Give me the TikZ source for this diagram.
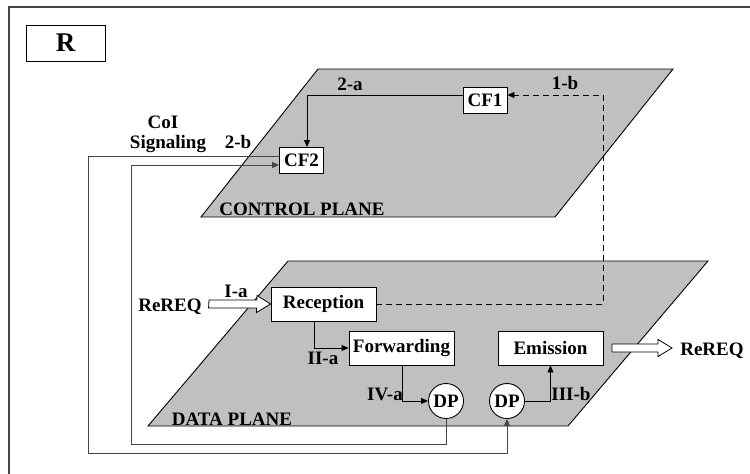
\documentclass[tikz,border=0pt]{standalone}
\usepackage{fontspec}
\setmainfont{Liberation Serif}
\usetikzlibrary{arrows.meta}
\definecolor{planegray}{RGB}{192,192,192}
\definecolor{edgegray}{RGB}{70,70,70}
\begin{document}
\begin{tikzpicture}[x=1pt,y=-1pt,
  every node/.style={font=\fontsize{19}{21}\selectfont\bfseries},
  box/.style={draw,fill=white,line width=0.9pt,inner sep=0pt,minimum width=105pt,minimum height=34pt},
  smallbox/.style={draw,fill=white,line width=0.9pt,inner sep=0pt,minimum width=44pt,minimum height=26pt},
  dpnode/.style={draw,fill=white,circle,line width=0.9pt,inner sep=0pt,minimum size=35pt},
  plane/.style={draw,fill=planegray,line width=0.9pt},
  arr/.style={line width=0.8pt,-{Triangle[length=7pt,width=6pt]}},
  loopline/.style={line width=1pt,draw=edgegray},
  lbl/.style={anchor=base,inner sep=0pt},
  blockarrow/.style={draw,fill=white,line width=0.8pt,line join=miter}]
\useasboundingbox (0,0) rectangle (750,474);
% frame (cropped: only top and left edges visible)
\draw[line width=1.3pt,draw=edgegray] (9,474) -- (9,7) -- (750,7);
\node[draw,line width=0.9pt,minimum width=79pt,minimum height=36pt,inner sep=0pt,font=\fontsize{27}{29}\selectfont\bfseries] (R) at (65.5,43) {R};
% planes
\draw[plane] (318,69) -- (673,69) -- (555,217) -- (201,217) -- cycle;
\draw[plane] (288,261) -- (708,261) -- (568,426) -- (148,426) -- cycle;
\node[lbl] (cpl) at (302,215) {CONTROL PLANE};
\node[lbl] (dpl) at (232,425) {DATA PLANE};
% nodes
\node[smallbox] (CF1) at (485,100) {CF1};
\node[smallbox] (CF2) at (301.5,160.5) {CF2};
\node[box] (Rec) at (323.5,304) {Reception};
\node[box] (Fwd) at (401.5,348) {Forwarding};
\node[box] (Emi) at (550.5,348) {Emission};
\node[dpnode] (DP1) at (446,401) {DP};
\node[dpnode] (DP2) at (507,401) {DP};
% coordinates
\coordinate (c1b) at (603,95);
\coordinate (o1) at (88,156);
\coordinate (o2) at (88,453);
\coordinate (i1) at (131,444);
% connectors
\draw[arr] ([yshift=5pt]CF1.west) -| ([xshift=5.5pt]CF2.north);
\draw[arr,dash pattern=on 6pt off 4pt] (Rec.east) -| (c1b) -- ([yshift=5pt]CF1.east);
\draw[loopline,-{Triangle[length=7pt,width=6pt]}] ([yshift=4.5pt]CF2.west) -- (o1) -- (o2) -| (DP2.south);
\draw[loopline,-{Triangle[length=7pt,width=6pt]}] (DP1.south) |- (i1) |- ([yshift=-4.5pt]CF2.west);
\draw[arr] ([xshift=-9.5pt]Rec.south) |- (Fwd.west);
\draw[arr] ([xshift=0.5pt]Fwd.south) |- (DP1.west);
\draw[arr] (DP2.east) -| (Emi.south);
% block arrows
\coordinate (inA) at (209,304);
\draw[blockarrow] (inA) ++(0,-4) -- ++(48,0) -- ++(0,-4.5) -- (Rec.west) -- ++(-14,8.5) -- ++(0,-4.5) -- ++(-48,0) -- cycle;
\coordinate (outA) at (612,348);
\coordinate (outT) at (672,348);
\draw[blockarrow] (outA) ++(0,-4) -- ++(46,0) -- ++(0,-4.5) -- (outT) -- ++(-14,8.5) -- ++(0,-4.5) -- ++(-46,0) -- cycle;
% labels
\node[lbl] (l2a) at (350,90) {2-a};
\node[lbl] (l1b) at (565,89) {1-b};
\node[lbl] (lcoi) at (163,128) {CoI};
\node[lbl] (lsig) at (168,148) {Signaling};
\node[lbl] (l2b) at (238,148) {2-b};
\node[lbl] (lia) at (236,297) {I-a};
\node[lbl] (lreqin) at (170,311) {ReREQ};
\node[lbl] (liia) at (323,364) {II-a};
\node[lbl] (liva) at (385,400) {IV-a};
\node[lbl] (liiib) at (571,400) {III-b};
\node[lbl] (lreqout) at (712,355) {ReREQ};
\end{tikzpicture}
\end{document}
